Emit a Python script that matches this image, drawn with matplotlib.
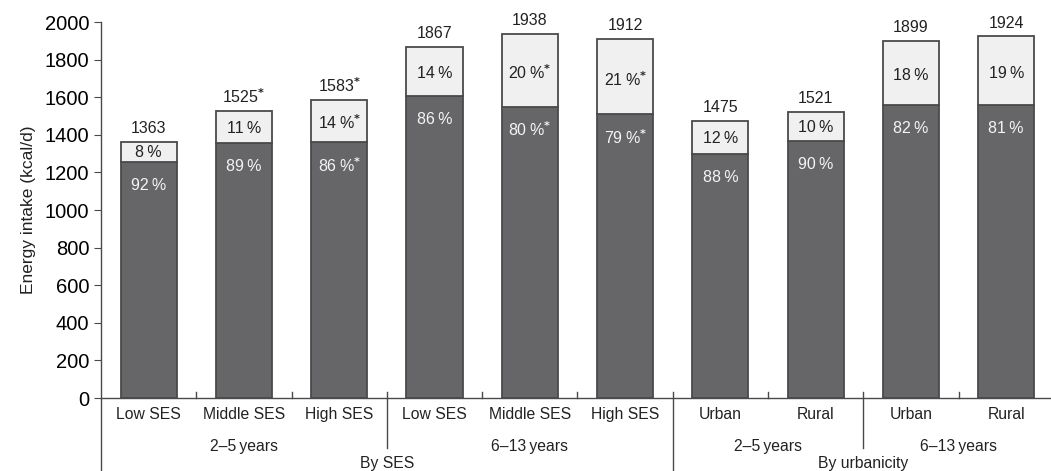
import numpy as np
import matplotlib.pyplot as plt

plt.rcParams['font.family'] = ['Liberation Sans', 'DejaVu Sans']

categories = ['Low SES', 'Middle SES', 'High SES', 'Low SES', 'Middle SES', 'High SES',
              'Urban', 'Rural', 'Urban', 'Rural']
totals = [1363, 1525, 1583, 1867, 1938, 1912, 1475, 1521, 1899, 1924]
pct_main = [92, 89, 86, 86, 80, 79, 88, 90, 82, 81]
pct_top = [8, 11, 14, 14, 20, 21, 12, 10, 18, 19]
star_total = [False, True, True, False, False, False, False, False, False, False]
star_pct = [False, False, True, False, True, True, False, False, False, False]
age_labels = ['2–5\u2009years', '6–13\u2009years', '2–5\u2009years', '6–13\u2009years']
age_pos = [1, 4, 6.5, 8.5]
group_labels = ['By SES', 'By urbanicity']
group_pos = [2.5, 7.5]

dark = '#666668'
light = '#f0f0f1'
edge = '#4a4a4a'
star = r'$^{\mathbf{*}}$'

x = np.arange(len(categories))
totals = np.array(totals)
main = totals * np.array(pct_main) / 100.0
top = totals - main

fig = plt.figure(figsize=(10.51, 4.71), dpi=100)
ax = fig.add_axes([101 / 1051, 73 / 471, 1 - 101 / 1051, 376 / 471])

ax.bar(x, main, width=0.59, color=dark, edgecolor=edge, linewidth=1.3)
ax.bar(x, top, bottom=main, width=0.59, color=light, edgecolor=edge, linewidth=1.3)

for i in range(len(x)):
    s = star if star_total[i] else ''
    ax.annotate(f'{totals[i]}{s}', (x[i], totals[i]), xytext=(0, 4), textcoords='offset points',
                ha='center', va='bottom', fontsize=11.5, color='#222222')
    s = star if star_pct[i] else ''
    ax.text(x[i], main[i] + top[i] * 0.46, f'{pct_top[i]}\u2009%{s}', ha='center', va='center',
            fontsize=11.5, color='#222222')
    ax.annotate(f'{pct_main[i]}\u2009%{s}', (x[i], main[i]), xytext=(0, -17), textcoords='offset points',
                ha='center', va='center', fontsize=11.5, color='#f4f4f4')

ax.set_xlim(-0.5, 9.47)
ax.set_ylim(0, 2000)
ax.set_yticks(np.arange(0, 2001, 200))
ax.tick_params(axis='y', labelsize=14.5, length=5, color=edge, direction='out')
ax.set_xticks([])
ax.set_ylabel('Energy intake (kcal/d)', fontsize=12.5, color='#222222', labelpad=6)
for sp in ['top', 'right']:
    ax.spines[sp].set_visible(False)
for sp in ['left', 'bottom']:
    ax.spines[sp].set_color(edge)
    ax.spines[sp].set_linewidth(1.0)

trans = ax.get_xaxis_transform()
for i in range(len(x)):
    ax.text(x[i], -0.045, categories[i], transform=trans, ha='center', va='center', fontsize=11.3,
            color='#222222')
for p, lab in zip(age_pos, age_labels):
    ax.text(p, -0.13, lab, transform=trans, ha='center', va='center', fontsize=11.3, color='#222222')
for p, lab in zip(group_pos, group_labels):
    ax.text(p, -0.173, lab, transform=trans, ha='center', va='center', fontsize=11.3, color='#222222')

# separators and small ticks between bars
for b in np.arange(0.5, 9, 1.0):
    if b == 5.5:
        lo = -0.2
    elif b in (2.5, 7.5):
        lo = -0.133
    else:
        lo = 0
    ax.plot([b, b], [lo, 0.016], transform=trans, color=edge, lw=1.0, clip_on=False)
ax.plot([-0.5, -0.5], [-0.2, 0], transform=trans, color=edge, lw=1.0, clip_on=False)

fig.savefig('out.png', dpi=100)
